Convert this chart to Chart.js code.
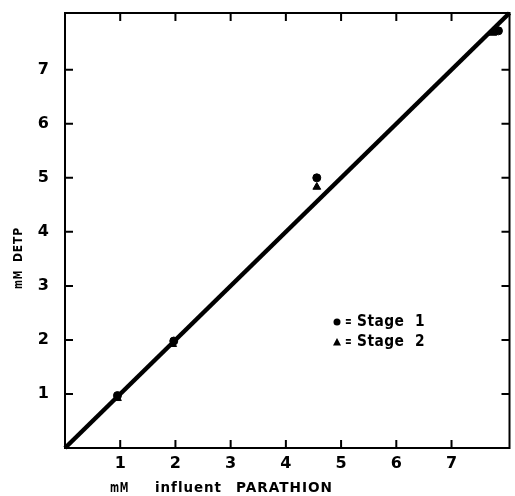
<!DOCTYPE html>
<html><head><meta charset="utf-8">
<script src="https://cdn.jsdelivr.net/npm/chart.js@4/dist/chart.umd.min.js"></script>
<style>html,body{margin:0;padding:0;background:#fff}#wrap{width:515px;height:496px}</style>
</head><body><div id="wrap"><canvas id="c" width="515" height="496"></canvas></div>
<script>
const tickValues = [1,2,3,4,5,6,7];
const stage1X = [0.95, 1.97, 4.56, 7.85];
const stage1Y = [0.97, 1.98, 5.0, 7.72];
const stage2X = [0.95, 1.95, 4.56, 7.75];
const stage2Y = [0.92, 1.92, 4.83, 7.68];
const fitX = [0, 8.05];
const fitY = [0, 8.05];
const axisMax = 8.05;
const xTitleWords = ['mM', 'influent', 'PARATHION'];
const yTitleWords = ['mM', 'DETP'];
const legendLabels = ['Stage  1', 'Stage  2'];

const FONT = '"DejaVu Sans", sans-serif';

const boxPlugin = {
  id: 'box',
  afterDraw(chart) {
    const {ctx, chartArea: a, scales: {x, y}} = chart;
    ctx.save();
    ctx.strokeStyle = '#000';
    ctx.lineWidth = 2;
    ctx.strokeRect(a.left, a.top, a.right - a.left, a.bottom - a.top);
    const L = 8;
    ctx.beginPath();
    tickValues.forEach(v => {
      const px = x.getPixelForValue(v);
      ctx.moveTo(px, a.bottom); ctx.lineTo(px, a.bottom - L);
      ctx.moveTo(px, a.top); ctx.lineTo(px, a.top + L);
      const py = y.getPixelForValue(v);
      ctx.moveTo(a.left, py); ctx.lineTo(a.left + L, py);
      ctx.moveTo(a.right, py); ctx.lineTo(a.right - L, py);
    });
    ctx.stroke();
    // axis titles
    ctx.fillStyle = '#000';
    ctx.textBaseline = 'middle';
    ctx.textAlign = 'left';
    ctx.font = 'bold 14px ' + FONT;
    ctx.letterSpacing = '1px';
    const xPos = [110, 155, 236], xW = [19, 67, 97];
    xTitleWords.forEach((w, i) => ctx.fillText(w, xPos[i], 488, xW[i]));
    ctx.font = 'bold 13px ' + FONT;
    const yPos = [289, 262], yW = [19, 35];
    yTitleWords.forEach((w, i) => {
      ctx.save();
      ctx.translate(19, yPos[i]);
      ctx.rotate(-Math.PI / 2);
      ctx.fillText(w, 0, 0, yW[i]);
      ctx.restore();
    });
    // legend
    ctx.letterSpacing = '0.5px';
    ctx.font = 'bold 15px ' + FONT;
    legendLabels.forEach((t, i) => {
      const yy = 322 + i * 20;
      ctx.beginPath();
      if (i === 0) {
        ctx.arc(337, yy, 3.5, 0, Math.PI * 2);
      } else {
        ctx.moveTo(337, yy - 4); ctx.lineTo(341, yy + 3.5); ctx.lineTo(333, yy + 3.5); ctx.closePath();
      }
      ctx.fill();
      ctx.fillText('=', 345, yy, 7);
      ctx.fillText(t, 357, yy, 68);
    });
    ctx.restore();
  }
};

const onlyTicks = s => { s.ticks = tickValues.map(v => ({value: v})); };

new Chart(document.getElementById('c'), {
  type: 'scatter',
  data: {
    datasets: [
      {
        type: 'line', label: 'fit',
        data: fitX.map((v, i) => ({x: v, y: fitY[i]})),
        borderColor: '#000', borderWidth: 4.5, pointRadius: 0, fill: false
      },
      {
        label: 'Stage 1',
        data: stage1X.map((v, i) => ({x: v, y: stage1Y[i]})),
        pointStyle: 'circle', pointRadius: 4, backgroundColor: '#000', borderColor: '#000'
      },
      {
        label: 'Stage 2',
        data: stage2X.map((v, i) => ({x: v, y: stage2Y[i]})),
        pointStyle: 'triangle', pointRadius: 4.5, backgroundColor: '#000', borderColor: '#000'
      }
    ]
  },
  options: {
    responsive: false,
    animation: false,
    clip: false,
    layout: {padding: {top: 13, right: 5, left: 0, bottom: 0}},
    plugins: {legend: {display: false}, tooltip: {enabled: false}},
    scales: {
      x: {
        type: 'linear', min: 0, max: axisMax,
        grid: {display: false, drawTicks: false, tickLength: 0}, border: {display: false},
        afterBuildTicks: onlyTicks,
        afterFit(s) { s.height = 48; s.paddingLeft = 0; s.paddingRight = 0; },
        ticks: {
          padding: 6, color: '#000',
          font: {family: FONT, size: 16, weight: 'bold'}
        }
      },
      y: {
        type: 'linear', min: 0, max: axisMax,
        grid: {display: false, drawTicks: false, tickLength: 0}, border: {display: false},
        afterBuildTicks: onlyTicks,
        afterFit(s) { s.width = 65; s.paddingTop = 0; s.paddingBottom = 0; },
        ticks: {
          padding: 16, color: '#000',
          font: {family: FONT, size: 16, weight: 'bold'}
        }
      }
    }
  },
  plugins: [boxPlugin]
});
</script>
</body></html>
